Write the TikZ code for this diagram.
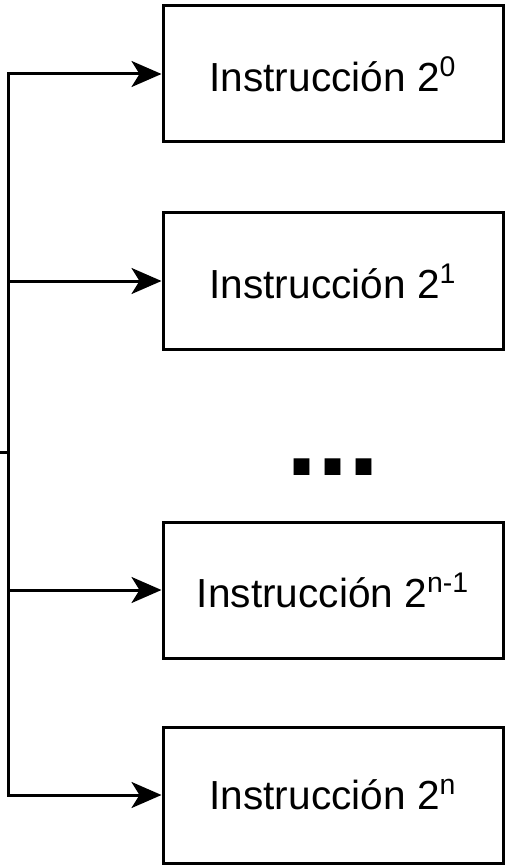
\documentclass[tikz,border=0pt]{standalone}
\usepackage{fontspec}
\setmainfont{Liberation Sans}
\usetikzlibrary{arrows.meta}

\begin{document}
\begin{tikzpicture}[x=0.5pt,y=-0.5pt]
	\tikzstyle{every node}=[font=\fontsize{20.3}{24}\selectfont]
	\tikzstyle{instr}=[draw, line width=1.5pt, minimum width=170pt, minimum height=68pt, inner sep=0pt]
	\tikzstyle{feed}=[line width=1.5pt, -{Stealth[length=15pt, width=13pt, inset=4pt]}]
	
	\useasboundingbox (0,0) rectangle (508,866);
	
	% instruction boxes
	\node[instr] (i0) at (333,74) {Instrucción 2\textsuperscript{0}};
	\node[instr] (i1) at (333,281) {Instrucción 2\textsuperscript{1}};
	\node[instr] (in1) at (333,590) {Instrucción 2\textsuperscript{n-1}};
	\node[instr] (in) at (333,795) {Instrucción 2\textsuperscript{n}};
	
	\node[font=\fontsize{56}{60}\selectfont\bfseries, anchor=base] (dots) at (333,475) {...};
	
	% bus on the left
	\coordinate (in0) at (0,452);
	\coordinate (b) at (8,452);
	\coordinate (b0) at (8,74);
	\coordinate (b1) at (8,281);
	\coordinate (bn1) at (8,590);
	\coordinate (bn) at (8,795);
	
	\draw[line width=1.5pt] (in0) -- (b);
	\draw[line width=1.5pt, line cap=rect] (b0) -- (bn);
	\draw[feed] (b0) -- (i0.west);
	\draw[feed] (b1) -- (i1.west);
	\draw[feed] (bn1) -- (in1.west);
	\draw[feed] (bn) -- (in.west);
	
\end{tikzpicture}
\end{document}
